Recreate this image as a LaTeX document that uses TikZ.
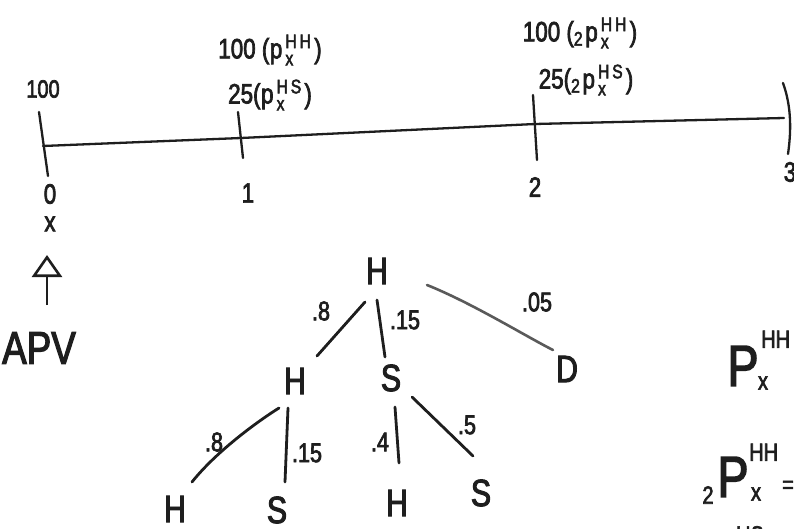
\RequirePackage{fix-cm}
\documentclass[tikz,border=0pt]{standalone}
\usepackage{fontspec}
\setmainfont[FakeStretch=0.8,FakeBold=2.5]{Liberation Sans}
\usetikzlibrary{calc,arrows.meta}
\definecolor{inkc}{HTML}{1E1E1E}
\definecolor{grayc}{HTML}{5A5A5A}
\newcommand{\pxx}[2]{${}_{\mathrm{#1}}\mathrm{p}_{\mathrm{x}}^{\mathrm{#2}}$}
\tikzset{
  stroke/.style={draw=inkc, line width=2.8pt, line cap=round},
  faint/.style={draw=grayc, line width=2.6pt, line cap=round},
  axis/.style={draw=inkc, line width=2.3pt, line cap=round},
  state/.style={text=inkc, font=\fontsize{38}{38}\selectfont, inner sep=0pt},
  prob/.style={text=inkc, font=\fontsize{27}{27}\selectfont, inner sep=0pt},
  tlab/.style={text=inkc, font=\fontsize{28}{28}\selectfont, inner sep=0pt},
  val/.style={text=inkc, font=\fontsize{28}{30}\selectfont, inner sep=0pt},
  small/.style={text=inkc, font=\fontsize{25}{25}\selectfont, inner sep=0pt},
  bigP/.style={text=inkc, font=\fontsize{58}{58}\selectfont, inner sep=0pt},
  scr/.style={text=inkc, font=\fontsize{25}{25}\selectfont, inner sep=0pt},
  uparrow/.style={draw=inkc, line width=2.8pt, -{Triangle[open,length=22pt,width=30pt,line width=2.6pt]}}
}
\begin{document}
\begin{tikzpicture}[x=1pt,y=-1pt]
\useasboundingbox (0,0) rectangle (794,529);
\clip (0,0) rectangle (794,529);
\fill[white] (0,0) rectangle (794,529);

% timeline
\coordinate (t0) at (43,146);
\coordinate (t1) at (241,138);
\coordinate (t2) at (535,124);
\coordinate (t3) at (784,118);
\draw[axis] (t0) -- (t1) -- (t2) -- (t3);
\draw[axis] ($(t0)+(-4,-34)$) -- ($(t0)+(5,30)$);
\draw[axis] ($(t1)+(-3,-26)$) -- ($(t1)+(2,20)$);
\draw[axis] ($(t2)+(-2,-29)$) -- ($(t2)+(2,36)$);
\draw[axis] ($(t3)+(-1,-35)$) .. controls ($(t3)+(8,-10)$) and ($(t3)+(7,15)$) .. ($(t3)+(4,36)$);

% timeline labels
\node[small] (v0) at (43,89) {100};
\node[val] (v1a) at (270,50) {100 (\pxx{}{HH})};
\node[val] (v1b) at (270,95) {25(\pxx{}{HS})};
\node[val] (v2a) at (580,33) {100 (\pxx{2}{HH})};
\node[val] (v2b) at (586,80) {25(\pxx{2}{HS})};

\node[tlab] (l0) at (50,194) {0};
\node[tlab] (l1) at (248,193) {1};
\node[tlab] (l2) at (535,187) {2};
\node[tlab] (l3) at (790,172) {3};

% x, arrow, APV
\node[tlab] (xx) at (50,224) {x};
\node[text=inkc, font=\fontsize{46}{46}\selectfont, inner sep=0pt] (apv) at (39,348) {APV};
\draw[uparrow] ($(xx)+(-3,81)$) -- ($(xx)+(-3,31)$);

% tree
\node[state] (r) at (377,271) {H};
\node[state] (h1) at (295,381) {H};
\node[state] (s1) at (391,378) {S};
\node[state] (d) at (567,369) {D};
\node[state] (hh) at (175,509) {H};
\node[state] (hs) at (277,510) {S};
\node[state] (sh) at (397,503) {H};
\node[state] (ss) at (481,493) {S};

\draw[stroke] ($(r)+(-12,31)$) -- ($(h1)+(22,-25)$);
\draw[stroke] ($(r)+(0,29)$) -- ($(s1)+(-6,-21)$);
\draw[faint] ($(r)+(50,14)$) .. controls ($(r)+(95,32)$) and ($(d)+(-40,-32)$) .. ($(d)+(-14,-19)$);
\draw[stroke] ($(h1)+(-16,27)$) .. controls ($(h1)+(-40,42)$) and ($(hh)+(40,-56)$) .. ($(hh)+(17,-27)$);
\draw[stroke] ($(h1)+(-7,27)$) -- ($(hs)+(8,-28)$);
\draw[stroke] ($(s1)+(4,29)$) -- ($(sh)+(2,-40)$);
\draw[stroke] ($(s1)+(21,19)$) -- ($(ss)+(-8,-37)$);

\node[prob] (p1) at (321,311) {.8};
\node[prob] (p2) at (405,320) {.15};
\node[prob] (p3) at (537,302) {.05};
\node[prob] (p4) at (214,442) {.8};
\node[prob] (p5) at (307,453) {.15};
\node[prob] (p6) at (380,442) {.4};
\node[prob] (p7) at (467,425) {.5};

% right-side formulas
\node[bigP] (P1) at (743,366) {P};
\node[scr, anchor=south west] (P1hh) at (761,348) {HH};
\node[scr] (P1x) at (763,383) {x};

\node[scr] (Q2) at (708,495) {2};
\node[bigP] (P2) at (733,477) {P};
\node[scr, anchor=south west] (P2hh) at (749,461) {HH};
\node[scr] (P2x) at (756,494) {x};
\node[scr] (P2eq) at (788,487) {=};
\node[scr] (P3hs) at (750,535) {HS};
\end{tikzpicture}
\end{document}
